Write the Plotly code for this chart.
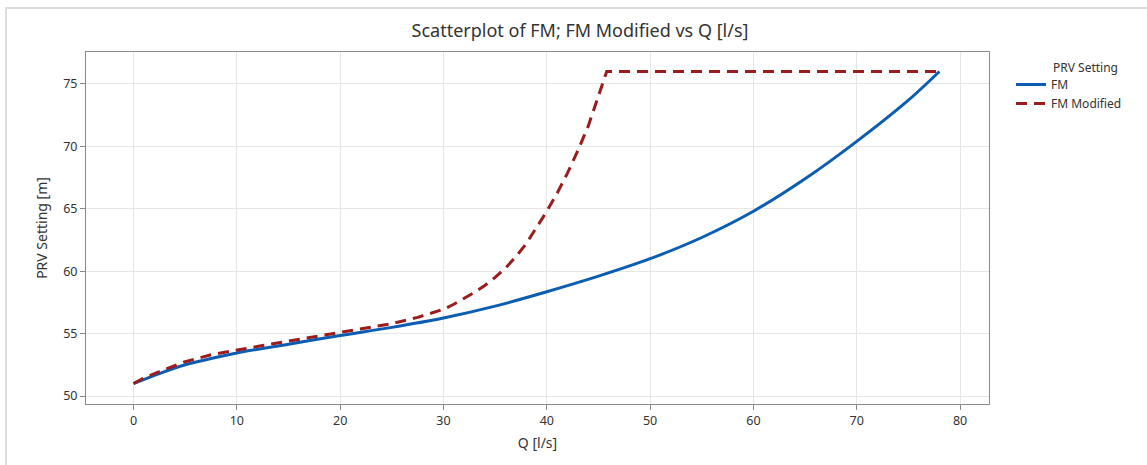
import plotly.graph_objects as go

# FM series
q_fm = [0, 2.5, 5, 7.5, 10, 15, 20, 25, 30, 35, 40, 45, 50, 55, 60, 65, 70, 75, 78]
fm = [51.0, 51.8, 52.5, 53.0, 53.45, 54.15, 54.85, 55.5, 56.25, 57.2, 58.35, 59.6, 61.0, 62.7, 64.8, 67.4, 70.4, 73.7, 76.0]

# FM Modified series
q_mod = [0, 1, 2.5, 5, 7.5, 10, 12.5, 15, 20, 25, 27.5, 30, 31, 32, 33, 34, 35, 36, 37, 38, 39, 40, 41, 42, 43, 44, 45.8, 78]
fm_mod = [51.0, 51.45, 51.95, 52.75, 53.3, 53.7, 54.05, 54.4, 55.1, 55.8, 56.3, 56.95, 57.35, 57.8, 58.3, 58.85, 59.5, 60.25, 61.15, 62.2, 63.45, 64.8, 66.25, 67.85, 69.65, 71.6, 76.0, 76.0]

x_ticks = [0, 10, 20, 30, 40, 50, 60, 70, 80]
y_ticks = [50, 55, 60, 65, 70, 75]

FONT = "Noto Sans"
TXT = "#333333"

fig = go.Figure()
fig.add_trace(go.Scatter(x=q_fm, y=fm, mode="lines", name="FM",
                         line=dict(color="#0a5db0", width=3, shape="spline", smoothing=0.8)))
fig.add_trace(go.Scatter(x=q_mod, y=fm_mod, mode="lines", name="FM Modified",
                         line=dict(color="#9b1c1c", width=3, dash="11px,7px")))

W, H = 1147, 465
L, R, T, B = 86, 158, 52, 61
pw, ph = W - L - R, H - T - B

def px(xp):
    return (xp - L) / pw

def py(yp):
    return (H - B - yp) / ph

fig.update_layout(
    width=W, height=H,
    margin=dict(l=L, r=R, t=T, b=B, autoexpand=False),
    paper_bgcolor="white", plot_bgcolor="white",
    font=dict(family=FONT, size=12, color=TXT),
    title=dict(text="Scatterplot of FM; FM Modified vs Q [l/s]", x=580 / W, xanchor="center",
               y=1 - 31 / H, yanchor="middle", font=dict(size=18, color=TXT, family=FONT)),
    showlegend=True,
    legend=dict(x=px(1011), xanchor="left", y=py(70), yanchor="top",
                font=dict(size=12, color=TXT, family=FONT), bgcolor="rgba(0,0,0,0)",
                tracegroupgap=0),
    xaxis=dict(range=[-4.6, 82.8], tickvals=x_ticks, showgrid=True, gridcolor="#e6e6e6", gridwidth=1,
               zeroline=False, showline=True, linecolor="#8a8a8a", linewidth=1, mirror=True,
               ticks="outside", ticklen=5, tickcolor="#8a8a8a",
               title=dict(text="Q [l/s]", font=dict(size=14, color=TXT), standoff=10),
               tickfont=dict(size=12.5, color=TXT)),
    yaxis=dict(range=[49.36, 77.56], tickvals=y_ticks, showgrid=True, gridcolor="#e6e6e6", gridwidth=1,
               zeroline=False, showline=True, linecolor="#8a8a8a", linewidth=1, mirror=True,
               ticks="outside", ticklen=5, tickcolor="#8a8a8a",
               title=dict(text="PRV Setting [m]", font=dict(size=14, color=TXT), standoff=12),
               tickfont=dict(size=12.5, color=TXT)),
)

fig.add_annotation(text="PRV Setting", xref="paper", yref="paper", x=px(1051), y=py(68),
                   xanchor="left", yanchor="middle", showarrow=False,
                   font=dict(size=12, color=TXT, family=FONT))

fig.add_shape(type="rect", xref="paper", yref="paper",
              x0=px(6), x1=px(1160), y0=py(480), y1=py(8),
              line=dict(color="#dcdcdc", width=2), fillcolor="rgba(0,0,0,0)", layer="below")

fig.write_html("out.html", config={"displayModeBar": False},
               post_script="document.body.style.margin='0px';")
